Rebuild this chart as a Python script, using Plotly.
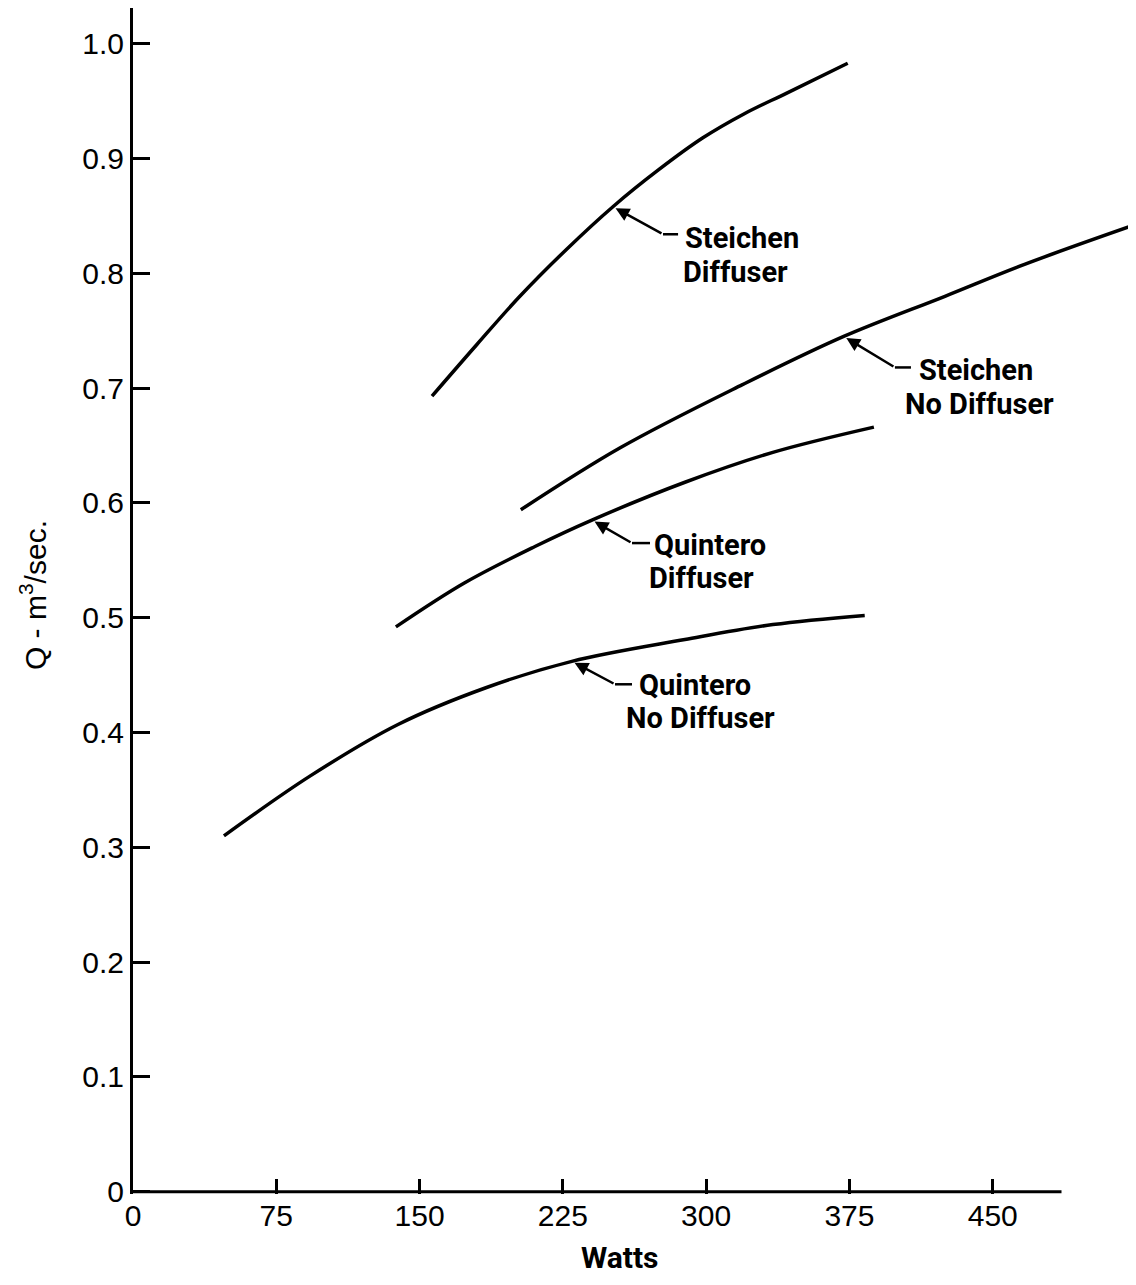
import plotly.graph_objects as go

# ---------------- data ----------------
steichen_diff_w = [156.5, 180.0, 202.5, 227.0, 251.2, 275.0, 298.3, 320.0, 342.2, 374.1]
steichen_diff_q = [0.693, 0.738, 0.780, 0.821, 0.858, 0.890, 0.918, 0.939, 0.957, 0.983]

steichen_nodiff_w = [203.0, 255.0, 319.0, 372.0, 425.0, 467.0, 524.0]
steichen_nodiff_q = [0.594, 0.648, 0.703, 0.745, 0.780, 0.808, 0.842]

quintero_diff_w = [137.6, 173.2, 210.4, 240.2, 288.9, 334.9, 387.8]
quintero_diff_q = [0.492, 0.530, 0.562, 0.585, 0.618, 0.644, 0.666]

quintero_nodiff_w = [47.6, 92.6, 138.7, 184.7, 229.7, 288.9, 334.9, 383.0]
quintero_nodiff_q = [0.310, 0.362, 0.407, 0.439, 0.462, 0.481, 0.494, 0.502]

x_ticks = [0, 75, 150, 225, 300, 375, 450]
y_ticks = [0, 0.1, 0.2, 0.3, 0.4, 0.5, 0.6, 0.7, 0.8, 0.9, 1.0]
y_tick_text = ["0", "0.1", "0.2", "0.3", "0.4", "0.5", "0.6", "0.7", "0.8", "0.9", "1.0"]

series_names = ["Steichen Diffuser", "Steichen No Diffuser", "Quintero Diffuser", "Quintero No Diffuser"]
label_line1 = ["Steichen", "Steichen", "Quintero", "Quintero"]
label_line2 = ["Diffuser", "No Diffuser", "Diffuser", "No Diffuser"]

x_title = "Watts"
y_title = "Q - m<sup>3</sup>/sec."

# ---------------- callout geometry (data units) ----------------
callouts = [
    dict(tip=(251.2, 0.858), kink=(277.4, 0.834), hend=(285.3, 0.834),
         t1=(318.9, 0.8305), t2=(315.2, 0.8015)),
    dict(tip=(372.0, 0.745), kink=(398.8, 0.718), hend=(407.2, 0.718),
         t1=(441.2, 0.7155), t2=(443.3, 0.6865)),
    dict(tip=(240.2, 0.585), kink=(261.2, 0.565), hend=(270.6, 0.565),
         t1=(302.0, 0.563), t2=(297.8, 0.535)),
    dict(tip=(229.7, 0.462), kink=(252.3, 0.442), hend=(261.2, 0.442),
         t1=(294.1, 0.441), t2=(297.3, 0.413)),
]

LABEL_FONT = dict(family="Roboto, Liberation Sans, sans-serif", size=29, color="black", weight=700)
TICK_FONT = dict(family="Liberation Sans, Arial, sans-serif", size=30, color="black")

fig = go.Figure()
for w, q, name in [
    (steichen_diff_w, steichen_diff_q, series_names[0]),
    (steichen_nodiff_w, steichen_nodiff_q, series_names[1]),
    (quintero_diff_w, quintero_diff_q, series_names[2]),
    (quintero_nodiff_w, quintero_nodiff_q, series_names[3]),
]:
    fig.add_trace(go.Scatter(x=w, y=q, mode="lines", name=name,
                             line=dict(color="black", width=3.5, shape="spline", smoothing=1.0),
                             showlegend=False, hoverinfo="x+y+name"))

annotations = []
shapes = []
for c, l1, l2 in zip(callouts, label_line1, label_line2):
    annotations.append(dict(x=c["tip"][0], y=c["tip"][1], ax=c["kink"][0], ay=c["kink"][1],
                            xref="x", yref="y", axref="x", ayref="y", text="",
                            showarrow=True, arrowhead=2, arrowsize=1.1, arrowwidth=2.5,
                            arrowcolor="black", standoff=3))
    shapes.append(dict(type="line", xref="x", yref="y", x0=c["kink"][0], y0=c["kink"][1],
                       x1=c["hend"][0], y1=c["hend"][1], line=dict(color="black", width=2.5)))
    annotations.append(dict(x=c["t1"][0], y=c["t1"][1], xref="x", yref="y", text=l1,
                            showarrow=False, xanchor="center", yanchor="middle",
                            font=dict(LABEL_FONT)))
    annotations.append(dict(x=c["t2"][0], y=c["t2"][1], xref="x", yref="y", text=l2,
                            showarrow=False, xanchor="center", yanchor="middle",
                            font=dict(LABEL_FONT)))

# x axis line (ends before the plot's right edge, as in the original)
shapes.append(dict(type="line", xref="x", yref="y", x0=0, y0=0, x1=486, y1=0,
                   line=dict(color="black", width=3)))

# axis titles
annotations.append(dict(x=255, y=-83 / 1186, xref="x", yref="paper", text=x_title, showarrow=False,
                        xanchor="center", yanchor="bottom",
                        font=dict(LABEL_FONT, size=30)))
annotations.append(dict(x=-0.1005, y=0.505, xref="paper", yref="paper", text=y_title,
                        showarrow=False, textangle=-90, xanchor="center", yanchor="middle",
                        font=dict(family="Liberation Sans, Arial, sans-serif", size=30, color="black")))

fig.update_layout(
    width=1120, height=1269,
    margin=dict(l=125, r=0, t=0, b=83),
    paper_bgcolor="white", plot_bgcolor="white",
    xaxis=dict(range=[0, 995 / 1.9105], tickvals=x_ticks, ticks="inside", ticklen=15, tickwidth=3,
               tickcolor="black", showgrid=False, zeroline=False, showline=False,
               tickfont=TICK_FONT, ticklabelstandoff=1),
    yaxis=dict(range=[-0.002, 1.0311], tickvals=y_ticks, ticktext=y_tick_text, ticks="inside",
               ticklen=17, tickwidth=3, tickcolor="black", showgrid=False, zeroline=False,
               showline=True, linewidth=3, linecolor="black", tickfont=TICK_FONT,
               ticklabelstandoff=0),
    annotations=annotations, shapes=shapes,
)

fig.write_html("out.html")
